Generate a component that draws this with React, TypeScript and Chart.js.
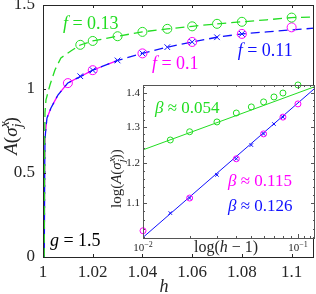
import React, { useEffect, useRef } from 'react';
import { Chart, registerables } from 'chart.js';
Chart.register(...registerables);

const GREEN = '#22dd22';
const BLUE = '#1010ff';
const MAGENTA = '#ff00ff';
const INK = '#262626';
const FONT = "'Liberation Serif', 'Times New Roman', serif";

// ---- main panel: dashed curves A(sigma) vs h ----
const greenCurveH = [1.0005, 1.0007, 1.0008, 1.0012, 1.0028, 1.0048, 1.0072, 1.0112, 1.015, 1.02, 1.03, 1.04, 1.05, 1.06, 1.07, 1.08, 1.09, 1.1, 1.109];
const greenCurveA = [0, 0.7, 0.857, 0.935, 1.024, 1.113, 1.185, 1.226, 1.262, 1.286, 1.314, 1.34, 1.358, 1.373, 1.388, 1.4, 1.412, 1.425, 1.429];
const blueCurveH = [1.0005, 1.0007, 1.0008, 1.0012, 1.0016, 1.0032, 1.006, 1.01, 1.015, 1.02, 1.03, 1.04, 1.05, 1.06, 1.07, 1.08, 1.09, 1.1, 1.109];
const blueCurveA = [0, 0.55, 0.7, 0.774, 0.827, 0.887, 0.964, 1.036, 1.074, 1.112, 1.17, 1.212, 1.249, 1.28, 1.308, 1.328, 1.34, 1.352, 1.362];
const magentaCurveH = [1.0005, 1.0007, 1.0008, 1.0012, 1.0016, 1.0032, 1.006, 1.01, 1.015, 1.02, 1.03];
const magentaCurveA = [0, 0.55, 0.7, 0.774, 0.827, 0.887, 0.964, 1.036, 1.074, 1.112, 1.17];

// ---- markers ----
const greenH = [1.015, 1.02, 1.03, 1.04, 1.05, 1.06, 1.07, 1.08, 1.1];
const greenA = [1.263, 1.286, 1.314, 1.34, 1.358, 1.373, 1.388, 1.4, 1.425];
const blueH = [1.015, 1.02, 1.03, 1.04, 1.05, 1.06, 1.07, 1.08];
const blueA = [1.076, 1.112, 1.17, 1.212, 1.249, 1.28, 1.308, 1.328];
const magentaH = [1.01, 1.02, 1.04, 1.06, 1.08, 1.1];
const magentaA = [1.035, 1.112, 1.212, 1.28, 1.328, 1.367];

// ---- inset fit lines (h-1, A) ----
const fitX = [0.01, 0.1288];
const greenFitA = [1.236, 1.42];
const blueFitA = [1.02, 1.415];

// ---- ticks ----
const mainXTicks = [1, 1.02, 1.04, 1.06, 1.08, 1.1];
const mainYTicks = [0, 0.5, 1, 1.5];
const insetXTicks = [0.01, 0.1];
const insetXMinor = [0.02, 0.03, 0.04, 0.05, 0.06, 0.07, 0.08, 0.09, 0.11, 0.12];
const insetYTicks = [1.1, 1.2, 1.3, 1.4];
const insetYMinor = [1.02, 1.04, 1.06, 1.08, 1.12, 1.14, 1.16, 1.18, 1.22, 1.24, 1.26, 1.28, 1.32, 1.34, 1.36, 1.38, 1.42];

const pts = (xs: number[], ys: number[], shift = 0) => xs.map((x, i) => ({ x: x - shift, y: ys[i] }));

type Part = { t: string; it?: boolean; sc?: number; sh?: number; stack?: boolean };

function drawParts(ctx: CanvasRenderingContext2D, parts: Part[], x: number, y: number, size: number, color: string, align: 'left' | 'center' = 'left') {
  const fnt = (p: Part) => `${p.it ? 'italic ' : ''}${Math.round(size * (p.sc ?? 1))}px ${FONT}`;
  const w = (p: Part) => { ctx.font = fnt(p); return p.stack ? 0 : ctx.measureText(p.t).width; };
  const total = parts.reduce((s, p) => s + w(p), 0);
  let cx = align === 'center' ? x - total / 2 : x;
  ctx.fillStyle = color;
  ctx.textAlign = 'left';
  ctx.textBaseline = 'alphabetic';
  for (const p of parts) {
    ctx.font = fnt(p);
    ctx.fillText(p.t, cx, y + (p.sh ?? 0) * size);
    cx += w(p);
  }
}

const mainLabels = [
  { h: 1.008, a: 1.393, color: GREEN, parts: [{ t: 'f', it: true }, { t: ' = 0.13' }] as Part[] },
  { h: 1.0783, a: 1.232, color: BLUE, parts: [{ t: 'f', it: true }, { t: ' = 0.11' }] as Part[] },
  { h: 1.0438, a: 1.155, color: MAGENTA, parts: [{ t: 'f', it: true }, { t: ' = 0.1' }] as Part[] },
  { h: 1.0028, a: 0.101, color: '#000', parts: [{ t: 'g', it: true }, { t: ' = 1.5' }] as Part[] },
];
const insetLabels = [
  { x: 0.01195, a: 1.358, color: GREEN, parts: [{ t: 'β', it: true }, { t: ' ≈ 0.054' }] as Part[] },
  { x: 0.0354, a: 1.157, color: MAGENTA, parts: [{ t: 'β', it: true }, { t: ' ≈ 0.115' }] as Part[] },
  { x: 0.0354, a: 1.0952, color: BLUE, parts: [{ t: 'β', it: true }, { t: ' ≈ 0.126' }] as Part[] },
];

function drawTicks(ctx: CanvasRenderingContext2D, chart: any, xs: number[], ys: number[], len: number) {
  const a = chart.chartArea;
  const sx = chart.scales.x, sy = chart.scales.y;
  ctx.beginPath();
  for (const v of xs) {
    const p = Math.round(sx.getPixelForValue(v)) + 0.5;
    ctx.moveTo(p, a.bottom); ctx.lineTo(p, a.bottom - len);
    ctx.moveTo(p, a.top); ctx.lineTo(p, a.top + len);
  }
  for (const v of ys) {
    const p = Math.round(sy.getPixelForValue(v)) + 0.5;
    ctx.moveTo(a.left, p); ctx.lineTo(a.left + len, p);
    ctx.moveTo(a.right, p); ctx.lineTo(a.right - len, p);
  }
  ctx.stroke();
}

const mainDecor = {
  id: 'mainDecor',
  afterDraw(chart: any) {
    const { ctx, chartArea: a, scales } = chart;
    ctx.save();
    ctx.strokeStyle = INK;
    ctx.lineWidth = 1;
    ctx.strokeRect(a.left + 0.5, a.top + 0.5, a.right - a.left - 1, a.bottom - a.top);
    drawTicks(ctx, chart, mainXTicks, mainYTicks, 3);
    for (const l of mainLabels) {
      drawParts(ctx, l.parts, scales.x.getPixelForValue(l.h), scales.y.getPixelForValue(l.a) + 6, 18, l.color);
    }
    drawParts(ctx, [{ t: 'h', it: true }], 164, 292, 18, INK, 'center');
    ctx.translate(17, 136);
    ctx.rotate(-Math.PI / 2);
    drawParts(ctx, [{ t: 'A', it: true }, { t: '(' }, { t: 'σ', it: true }, { t: 'x', it: true, sc: 0.75, sh: -0.42, stack: true }, { t: 'j', it: true, sc: 0.75, sh: 0.28 }, { t: ')' }], 0, 0, 19, INK, 'center');
    ctx.restore();
  },
};

const insetDecor = {
  id: 'insetDecor',
  beforeDraw(chart: any) {
    const { ctx, chartArea: a } = chart;
    ctx.save();
    ctx.fillStyle = '#ffffff';
    ctx.fillRect(a.left, a.top, a.right - a.left, a.bottom - a.top);
    ctx.restore();
  },
  afterDraw(chart: any) {
    const { ctx, chartArea: a, scales } = chart;
    ctx.save();
    ctx.strokeStyle = '#555';
    ctx.lineWidth = 1;
    ctx.strokeRect(a.left + 0.5, a.top + 0.5, a.right - a.left - 1, a.bottom - a.top);
    drawTicks(ctx, chart, insetXTicks, insetYTicks, 4);
    drawTicks(ctx, chart, insetXMinor, insetYMinor, 2);
    for (const v of insetXTicks) {
      const px = scales.x.getPixelForValue(v);
      const e = Math.round(Math.log10(v));
      drawParts(ctx, [{ t: '10' }, { t: '−' + Math.abs(e), sc: 0.75, sh: -0.4 }], px, 173, 11, INK, 'center');
    }
    for (const l of insetLabels) {
      drawParts(ctx, l.parts, scales.x.getPixelForValue(l.x), scales.y.getPixelForValue(l.a) + 6, 17, l.color);
    }
    drawParts(ctx, [{ t: 'log(' }, { t: 'h', it: true }, { t: ' − 1)' }], 131, 174, 16, INK, 'center');
    ctx.translate(26, 130);
    ctx.rotate(-Math.PI / 2);
    drawParts(ctx, [{ t: 'log(' }, { t: 'A', it: true }, { t: '(' }, { t: 'σ', it: true }, { t: 'x', it: true, sc: 0.75, sh: -0.42, stack: true }, { t: 'j', it: true, sc: 0.75, sh: 0.28 }, { t: '))' }], 0, 0, 15, INK, 'left');
    ctx.restore();
  },
};

const curve = (data: any[], color: string, order: number, dashOffset = 0) => ({
  data, showLine: true, borderColor: color, borderWidth: 1.3, borderDash: [9, 5], borderDashOffset: dashOffset,
  pointRadius: 0, fill: false, order, clip: false as any,
});
const marks = (data: any[], color: string, style: string, r: number, order: number) => ({
  data, showLine: false, pointStyle: style, pointRadius: r, pointBorderColor: color, borderColor: color,
  pointBackgroundColor: 'rgba(0,0,0,0)', backgroundColor: 'rgba(0,0,0,0)', pointBorderWidth: 1, order, clip: false as any,
});
const line = (data: any[], color: string, order: number) => ({
  data, showLine: true, borderColor: color, borderWidth: 1, pointRadius: 0, fill: false, order,
});

export default function App() {
  const mainRef = useRef<HTMLCanvasElement>(null);
  const insetRef = useRef<HTMLCanvasElement>(null);

  useEffect(() => {
    const zeroPad = (s: any) => { s.paddingTop = 0; s.paddingBottom = 0; s.paddingLeft = 0; s.paddingRight = 0; };
    const main = new Chart(mainRef.current!, {
      type: 'scatter',
      data: {
        datasets: [
          curve(pts(magentaCurveH, magentaCurveA), MAGENTA, 5),
          curve(pts(blueCurveH, blueCurveA), BLUE, 4, 7),
          curve(pts(greenCurveH, greenCurveA), GREEN, 3),
          marks(pts(magentaH, magentaA), MAGENTA, 'circle', 4.5, 2),
          marks(pts(blueH, blueA), BLUE, 'crossRot', 4, 1),
          marks(pts(greenH, greenA), GREEN, 'circle', 4.5, 0),
        ] as any,
      },
      options: {
        animation: false, responsive: false, devicePixelRatio: 1, events: [],
        layout: { padding: { top: 5, right: 2, left: 0, bottom: 0 }, autoPadding: false } as any,
        plugins: { legend: { display: false }, tooltip: { enabled: false } },
        scales: {
          x: {
            type: 'linear', min: 1, max: 1.109,
            grid: { display: false, drawTicks: false }, border: { display: false },
            afterBuildTicks: (s: any) => { s.ticks = mainXTicks.map((v) => ({ value: v })); },
            afterFit: (s: any) => { s.height = 37; zeroPad(s); },
            ticks: { font: { family: FONT, size: 17 }, color: INK, padding: 5, maxRotation: 0, autoSkip: false, callback: (v: any) => String(+Number(v).toFixed(2)) },
          },
          y: {
            type: 'linear', min: 0, max: 1.5,
            grid: { display: false, drawTicks: false }, border: { display: false },
            afterBuildTicks: (s: any) => { s.ticks = mainYTicks.map((v) => ({ value: v })); },
            afterFit: (s: any) => { s.width = 43; zeroPad(s); },
            ticks: { font: { family: FONT, size: 17 }, color: INK, padding: 8, callback: (v: any) => String(+Number(v).toFixed(1)) },
          },
        },
      } as any,
      plugins: [mainDecor],
    });

    const inset = new Chart(insetRef.current!, {
      type: 'scatter',
      data: {
        datasets: [
          line(pts(fitX, blueFitA), BLUE, 5),
          line(pts(fitX, greenFitA), GREEN, 4),
          marks(pts(magentaH, magentaA, 1), MAGENTA, 'circle', 3, 2),
          marks(pts(blueH, blueA, 1), BLUE, 'crossRot', 2.5, 1),
          marks(pts(greenH, greenA, 1), GREEN, 'circle', 3, 0),
        ] as any,
      },
      options: {
        animation: false, responsive: false, devicePixelRatio: 1, events: [],
        layout: { padding: { top: 7, right: 1, left: 0, bottom: 0 }, autoPadding: false } as any,
        plugins: { legend: { display: false }, tooltip: { enabled: false } },
        scales: {
          x: {
            type: 'logarithmic', min: 0.01, max: 0.1288,
            grid: { display: false, drawTicks: false }, border: { display: false },
            afterBuildTicks: (s: any) => { s.ticks = insetXTicks.map((v) => ({ value: v })); },
            afterFit: (s: any) => { s.height = 56; zeroPad(s); },
            ticks: { display: false },
          },
          y: {
            type: 'logarithmic', min: 1.0187, max: 1.4249,
            grid: { display: false, drawTicks: false }, border: { display: false },
            afterBuildTicks: (s: any) => { s.ticks = insetYTicks.map((v) => ({ value: v })); },
            afterFit: (s: any) => { s.width = 48; zeroPad(s); },
            ticks: { font: { family: FONT, size: 11 }, color: INK, padding: 3, autoSkip: false, callback: (v: any) => Number(v).toFixed(1) },
          },
        },
      } as any,
      plugins: [insetDecor],
    });

    return () => { main.destroy(); inset.destroy(); };
  }, []);

  return (
    <div style={{ position: 'fixed', left: 0, top: 0, width: 316, height: 294, background: '#fff', overflow: 'hidden' }}>
      <canvas ref={mainRef} width={316} height={294} style={{ position: 'absolute', left: 0, top: 0, width: 316, height: 294 }} />
      <canvas ref={insetRef} width={221} height={216} style={{ position: 'absolute', left: 95, top: 78, width: 221, height: 216 }} />
    </div>
  );
}
